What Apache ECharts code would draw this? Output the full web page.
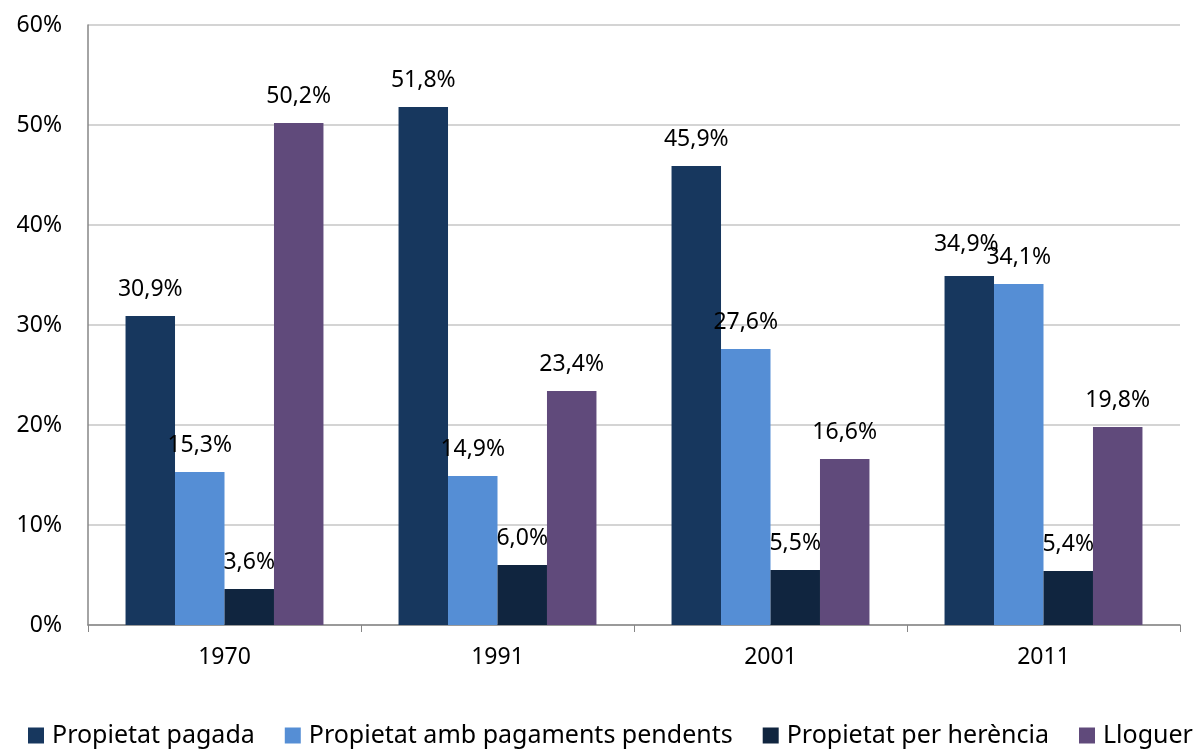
<!DOCTYPE html>
<html>
<head>
<meta charset="utf-8">
<script src="https://cdn.jsdelivr.net/npm/echarts@6/dist/echarts.min.js"></script>
<style>
  html, body { margin: 0; padding: 0; background: #fff; }
  #chart { width: 1195px; height: 751px; }
</style>
</head>
<body>
<div id="chart"></div>
<script>
// Règim de tinença de l'habitatge per any (%)
const years = ['1970', '1991', '2001', '2011'];
const seriesNames = ['Propietat pagada', 'Propietat amb pagaments pendents', 'Propietat per herència', 'Lloguer'];
const propietatPagada = [30.9, 51.8, 45.9, 34.9];
const propietatPendents = [15.3, 14.9, 27.6, 34.1];
const propietatHerencia = [3.6, 6.0, 5.5, 5.4];
const lloguer = [50.2, 23.4, 16.6, 19.8];
const yTicks = [0, 10, 20, 30, 40, 50, 60];

const colors = ['#17375E', '#558ED5', '#10253F', '#604A7B'];
const FONT = 'Noto Sans';

const fmt = v => v.toFixed(1).replace('.', ',') + '%';

function makeSeries(name, values, color, nudges) {
  return {
    name: name,
    type: 'bar',
    data: values.map((v, i) => {
      const item = { value: v };
      if (nudges && nudges[i]) item.label = { offset: nudges[i] };
      return item;
    }),
    barGap: '0%',
    barCategoryGap: '27.5%',
    itemStyle: { color: color },
    label: {
      show: true,
      position: 'top',
      distance: 15,
      color: '#000',
      fontFamily: FONT,
      fontSize: 23,
      formatter: p => fmt(p.value)
    }
  };
}

const chart = echarts.init(document.getElementById('chart'));
chart.setOption({
  animation: false,
  textStyle: { fontFamily: FONT },
  grid: { left: 88, right: 15, top: 25, bottom: 126 },
  legend: {
    bottom: 3,
    left: 28,
    width: 1190,
    padding: 0,
    itemWidth: 16,
    itemHeight: 16,
    itemGap: 30,
    icon: 'rect',
    textStyle: { fontFamily: FONT, fontSize: 25, color: '#000', padding: [0, 0, 0, 3] },
    data: seriesNames
  },
  xAxis: {
    type: 'category',
    data: years,
    axisLine: { lineStyle: { color: '#868686', width: 1.5 } },
    axisTick: { show: true, length: 7, lineStyle: { color: '#868686' } },
    axisLabel: { color: '#000', fontSize: 23, fontFamily: FONT, margin: 21 }
  },
  yAxis: {
    type: 'value',
    min: yTicks[0],
    max: yTicks[yTicks.length - 1],
    interval: 10,
    axisLine: { show: true, lineStyle: { color: '#868686', width: 1.5 } },
    axisTick: { show: false },
    splitLine: { lineStyle: { color: '#c6c6c6', width: 1.5 } },
    axisLabel: { color: '#000', fontSize: 23, fontFamily: FONT, margin: 26, formatter: v => v + '%' }
  },
  series: [
    makeSeries(seriesNames[0], propietatPagada, colors[0], [null, null, null, [-3, -5]]),
    makeSeries(seriesNames[1], propietatPendents, colors[1]),
    makeSeries(seriesNames[2], propietatHerencia, colors[2]),
    makeSeries(seriesNames[3], lloguer, colors[3])
  ]
});
</script>
</body>
</html>
